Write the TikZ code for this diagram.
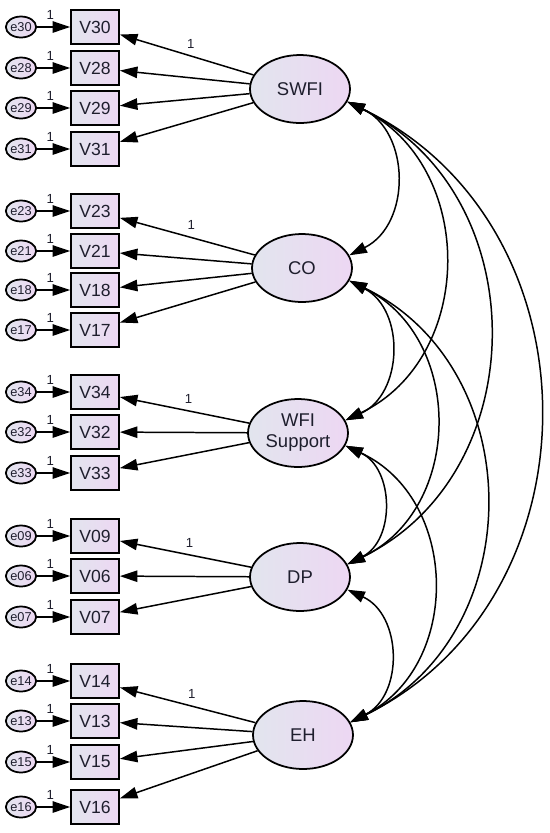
\documentclass[tikz,border=0pt]{standalone}
\usepackage{fontspec}
\setmainfont{Liberation Sans}
\usetikzlibrary{arrows.meta,shapes.geometric}

\definecolor{shadeleft}{RGB}{226,229,238}
\definecolor{shaderight}{RGB}{237,215,243}
\definecolor{ink}{RGB}{30,30,45}

\begin{document}
\begin{tikzpicture}[x=0.02cm, y=0.02cm, >={Triangle[length=10pt,width=6.5pt]},
		obs/.style={draw, line width=1pt, left color=shadeleft, right color=shaderight,
			minimum width=0.96cm, minimum height=0.68cm, inner sep=0pt, text=ink,
			font=\fontsize{10}{11}\selectfont},
		err/.style={draw, ellipse, line width=1pt, left color=shadeleft, right color=shaderight,
			minimum width=0.5cm, minimum height=0.42cm, inner sep=0pt, text=ink,
			font=\fontsize{7.3}{8}\selectfont},
		lat/.style={draw, ellipse, line width=1pt, left color=shadeleft, right color=shaderight,
			minimum width=2cm, minimum height=1.36cm, inner sep=0pt, align=center, text=ink,
			font=\fontsize{10.5}{12}\selectfont},
		one/.style={above, inner sep=4pt, text=ink, font=\fontsize{7.5}{8}\selectfont},
		load/.style={->, line width=0.85pt},
		cov/.style={<->, line width=0.85pt, bend left=64, looseness=1.16}]
	\useasboundingbox (0, 0) rectangle (550, -833);

	% latent variables
	\node[lat] (swfi) at (300, -89) {SWFI};
	\node[lat] (co) at (302, -268) {CO};
	\node[lat] (wfi) at (298, -433) {WFI\\Support};
	\node[lat] (dp) at (300, -577) {DP};
	\node[lat] (eh) at (303, -735) {EH};

	% indicators
	\node[obs] (v30) at (95, -27) {V30};
	\node[obs] (v28) at (95, -68) {V28};
	\node[obs] (v29) at (95, -108) {V29};
	\node[obs] (v31) at (95, -149) {V31};
	\node[obs] (v23) at (95, -211) {V23};
	\node[obs] (v21) at (95, -251) {V21};
	\node[obs] (v18) at (95, -290) {V18};
	\node[obs] (v17) at (95, -330) {V17};
	\node[obs] (v34) at (95, -392) {V34};
	\node[obs] (v32) at (95, -432) {V32};
	\node[obs] (v33) at (95, -473) {V33};
	\node[obs] (v09) at (95, -536) {V09};
	\node[obs] (v06) at (95, -576) {V06};
	\node[obs] (v07) at (95, -617) {V07};
	\node[obs] (v14) at (95, -681) {V14};
	\node[obs] (v13) at (95, -721) {V13};
	\node[obs] (v15) at (95, -762) {V15};
	\node[obs] (v16) at (95, -807) {V16};

	% errors
	\node[err] (e30) at (21, -27) {e30};
	\node[err] (e28) at (21, -68) {e28};
	\node[err] (e29) at (21, -108) {e29};
	\node[err] (e31) at (21, -149) {e31};
	\node[err] (e23) at (21, -211) {e23};
	\node[err] (e21) at (21, -251) {e21};
	\node[err] (e18) at (21, -290) {e18};
	\node[err] (e17) at (21, -330) {e17};
	\node[err] (e34) at (21, -392) {e34};
	\node[err] (e32) at (21, -432) {e32};
	\node[err] (e33) at (21, -473) {e33};
	\node[err] (e09) at (21, -536) {e09};
	\node[err] (e06) at (21, -576) {e06};
	\node[err] (e07) at (21, -617) {e07};
	\node[err] (e14) at (21, -681) {e14};
	\node[err] (e13) at (21, -721) {e13};
	\node[err] (e15) at (21, -762) {e15};
	\node[err] (e16) at (21, -807) {e16};

	% error paths
	\draw[load] (e30) -- node[one, pos=0.4] {1} (v30);
	\draw[load] (e28) -- node[one, pos=0.4] {1} (v28);
	\draw[load] (e29) -- node[one, pos=0.4] {1} (v29);
	\draw[load] (e31) -- node[one, pos=0.4] {1} (v31);
	\draw[load] (e23) -- node[one, pos=0.4] {1} (v23);
	\draw[load] (e21) -- node[one, pos=0.4] {1} (v21);
	\draw[load] (e18) -- node[one, pos=0.4] {1} (v18);
	\draw[load] (e17) -- node[one, pos=0.4] {1} (v17);
	\draw[load] (e34) -- node[one, pos=0.4] {1} (v34);
	\draw[load] (e32) -- node[one, pos=0.4] {1} (v32);
	\draw[load] (e33) -- node[one, pos=0.4] {1} (v33);
	\draw[load] (e09) -- node[one, pos=0.4] {1} (v09);
	\draw[load] (e06) -- node[one, pos=0.4] {1} (v06);
	\draw[load] (e07) -- node[one, pos=0.4] {1} (v07);
	\draw[load] (e14) -- node[one, pos=0.4] {1} (v14);
	\draw[load] (e13) -- node[one, pos=0.4] {1} (v13);
	\draw[load] (e15) -- node[one, pos=0.4] {1} (v15);
	\draw[load] (e16) -- node[one, pos=0.4] {1} (v16);

	% loadings
	\draw[load] (swfi) -- node[one, pos=0.47] {1} (v30);
	\draw[load] (swfi) -- (v28);
	\draw[load] (swfi) -- (v29);
	\draw[load] (swfi) -- (v31);
	\draw[load] (co) -- node[one, pos=0.47] {1} (v23);
	\draw[load] (co) -- (v21);
	\draw[load] (co) -- (v18);
	\draw[load] (co) -- (v17);
	\draw[load] (wfi) -- node[one, pos=0.47] {1} (v34);
	\draw[load] (wfi) -- (v32);
	\draw[load] (wfi) -- (v33);
	\draw[load] (dp) -- node[one, pos=0.47] {1} (v09);
	\draw[load] (dp) -- (v06);
	\draw[load] (dp) -- (v07);
	\draw[load] (eh) -- node[one, pos=0.47] {1} (v14);
	\draw[load] (eh) -- (v13);
	\draw[load] (eh) -- (v15);
	\draw[load] (eh) -- (v16);

	% covariances
	\draw[cov] (swfi.-15) to (co.15);
	\draw[cov] (swfi.-15) to (wfi.15);
	\draw[cov] (swfi.-15) to (dp.15);
	\draw[cov] (swfi.-15) to (eh.15);
	\draw[cov] (co.-15) to (wfi.15);
	\draw[cov] (co.-15) to (dp.15);
	\draw[cov] (co.-15) to (eh.15);
	\draw[cov] (wfi.-15) to (dp.15);
	\draw[cov] (wfi.-15) to (eh.15);
	\draw[cov] (dp.-15) to (eh.15);
\end{tikzpicture}
\end{document}
